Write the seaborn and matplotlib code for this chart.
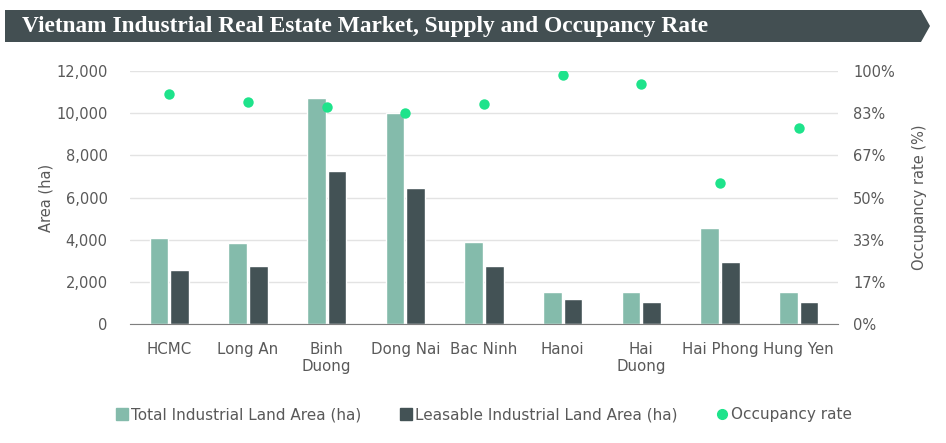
import numpy as np
import pandas as pd
import matplotlib
matplotlib.use("Agg")
import matplotlib.pyplot as plt
from matplotlib.patches import Polygon
from matplotlib.lines import Line2D
from matplotlib.ticker import FuncFormatter, FixedLocator
import seaborn as sns

# ---- data ----
regions = ["HCMC", "Long An", "Binh Duong", "Dong Nai", "Bac Ninh",
           "Hanoi", "Hai Duong", "Hai Phong", "Hung Yen"]
tick_labels = ["HCMC", "Long An", "Binh\nDuong", "Dong Nai", "Bac Ninh",
               "Hanoi", "Hai\nDuong", "Hai Phong", "Hung Yen"]
total_area = [4080, 3830, 10720, 9990, 3870, 1500, 1500, 4540, 1500]
leasable_area = [2550, 2750, 7270, 6470, 2750, 1170, 1030, 2960, 1030]
occupancy = [0.908, 0.879, 0.858, 0.835, 0.870, 0.985, 0.947, 0.559, 0.775]
series_names = ["Total Industrial Land Area (ha)", "Leasable Industrial Land Area (ha)"]
occ_name = "Occupancy rate"
title = "Vietnam Industrial Real Estate Market, Supply and Occupancy Rate"

c_total = "#84bbab"
c_lease = "#435255"
c_occ = "#1ee38b"
c_text = "#595959"
c_grid = "#e3e3e3"
c_bar_title = "#434f52"

df = pd.DataFrame({
    "Region": regions * 2,
    "Area": total_area + leasable_area,
    "Series": [series_names[0]] * len(regions) + [series_names[1]] * len(regions),
})

sns.set_style("white")
plt.rcParams["font.family"] = ["DejaVu Sans"]

W, H = 946, 443
fig = plt.figure(figsize=(W / 100, H / 100), dpi=100)

# Title band
pts = [(5, 10), (921, 10), (930, 26), (921, 42), (5, 42)]
poly = Polygon([(x / W, 1 - y / H) for x, y in pts], closed=True,
               transform=fig.transFigure, facecolor=c_bar_title, edgecolor="none")
fig.patches.append(poly)
fig.text(22 / W, 1 - 26.5 / H, title, color="white", fontsize=16.8,
         fontweight="bold", family="Liberation Serif", va="center", ha="left")

ax = fig.add_axes([130 / W, 1 - 324 / H, (838 - 130) / W, (324 - 71) / H])
sns.barplot(data=df, x="Region", y="Area", hue="Series", order=regions,
            hue_order=series_names, palette=[c_total, c_lease], width=0.53,
            gap=0.1, ax=ax, legend=False, saturation=1)
ax.set_ylim(0, 12000)
ax.set_xlim(-0.5, len(regions) - 0.5)
ax.yaxis.set_major_locator(FixedLocator(np.arange(0, 12001, 2000)))
ax.yaxis.set_major_formatter(FuncFormatter(lambda v, p: f"{int(v):,}"))
ax.grid(axis="y", color=c_grid, linewidth=1)
ax.set_axisbelow(True)
for s in ["top", "right", "left"]:
    ax.spines[s].set_visible(False)
ax.spines["bottom"].set_color("#7f7f7f")
ax.set_xticks(range(len(regions)))
ax.set_xticklabels(tick_labels)
ax.set_xticks(np.arange(-0.5, len(regions), 1), minor=True)
ax.tick_params(axis="x", which="major", length=0, pad=13, labelsize=10.8, labelcolor=c_text)
ax.tick_params(axis="x", which="minor", length=5, color="#7f7f7f", width=1)
ax.tick_params(axis="y", length=0, pad=16, labelsize=10.5, labelcolor=c_text)
ax.set_xlabel("")
ax.set_ylabel("Area (ha)", fontsize=10.5, color=c_text, labelpad=2)

ax2 = ax.twinx()
sns.stripplot(x=regions, y=occupancy, order=regions, jitter=False, color=c_occ,
              size=7.5, ax=ax2, linewidth=0)
ax2.set_xlim(-0.5, len(regions) - 0.5)
ax2.set_ylim(0, 1)
ax2.yaxis.set_major_locator(FixedLocator(np.linspace(0, 1, 7)))
ax2.yaxis.set_major_formatter(FuncFormatter(lambda v, p: f"{v * 100:.0f}%"))
for s in ["top", "right", "left", "bottom"]:
    ax2.spines[s].set_visible(False)
ax2.tick_params(axis="y", length=0, pad=11, labelsize=10.5, labelcolor=c_text)
ax2.set_ylabel("Occupancy rate (%)", fontsize=10.5, color=c_text, labelpad=12)

handles = [
    Line2D([], [], marker="s", linestyle="none", markersize=8, color=c_total),
    Line2D([], [], marker="s", linestyle="none", markersize=8, color=c_lease),
    Line2D([], [], marker="o", linestyle="none", markersize=7, color=c_occ),
]
fig.legend(handles, series_names + [occ_name], loc="center",
           bbox_to_anchor=(483 / W, 1 - 415 / H), ncol=3, frameon=False,
           fontsize=11, handletextpad=0.1, columnspacing=2.4, labelcolor=c_text,
           handlelength=1.0)

fig.savefig("out.png", dpi=100)
